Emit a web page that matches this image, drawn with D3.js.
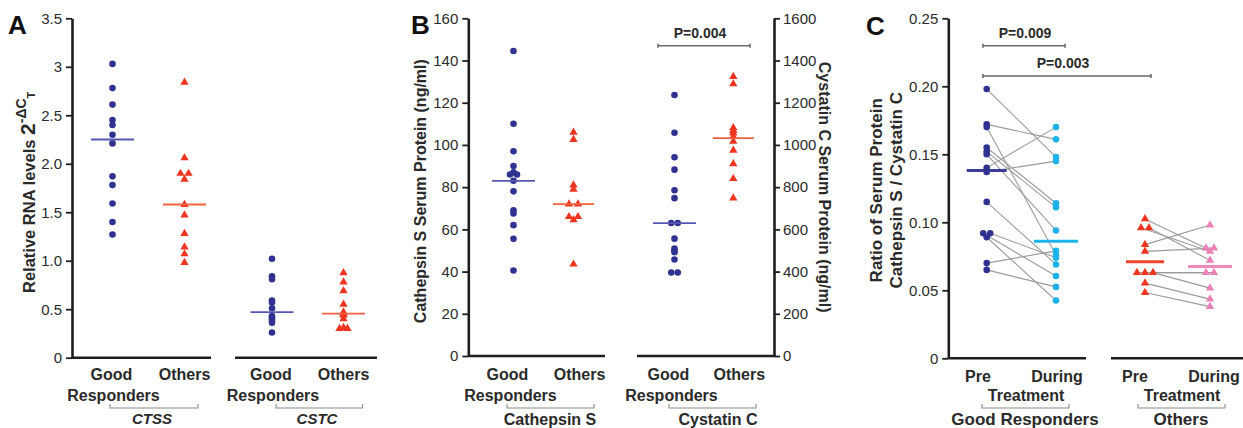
<!DOCTYPE html>
<html>
<head>
<meta charset="utf-8">
<script src="https://cdn.jsdelivr.net/npm/d3@7/dist/d3.min.js"></script>
<style>
  html, body { margin: 0; padding: 0; background: #fff; }
  svg { display: block; font-family: "Liberation Sans", Arial, sans-serif; }
</style>
</head>
<body>
<svg id="chart" width="1243" height="428"></svg>
<script>
// ---------------- DATA ----------------
// Panel A: relative RNA levels (2^-dCT)
const aGroups = ["CTSS Good", "CTSS Others", "CSTC Good", "CSTC Others"];
const ctssGood   = [3.03, 2.78, 2.61, 2.45, 2.40, 2.30, 2.21, 1.87, 1.78, 1.59, 1.40, 1.27];
const ctssOthers = [2.84, 2.06, 1.90, 1.90, 1.84, 1.58, 1.47, 1.28, 1.14, 1.07, 0.98];
const cstcGood   = [1.02, 0.84, 0.81, 0.59, 0.57, 0.51, 0.43, 0.42, 0.40, 0.38, 0.36, 0.26];
const cstcOthers = [0.875, 0.78, 0.69, 0.55, 0.47, 0.45, 0.44, 0.40, 0.31, 0.30, 0.30];
const aMedians   = [2.25, 1.58, 0.47, 0.455];
const aTicks      = [0, 0.5, 1, 1.5, 2, 2.5, 3, 3.5];
const aTickLabels = ["0", "0.5", "1.0", "1.5", "2.0", "2.5", "3", "3.5"];
const aGeneLabels = ["CTSS", "CSTC"];

// Panel B: serum protein (ng/ml)
const bGroups = ["CatS Good", "CatS Others", "CysC Good", "CysC Others"];
const catsGood   = [144.5, 110, 97, 90, 87, 86, 86, 83, 78, 69, 67.5, 62, 55.5, 40.5];
const catsOthers = [106, 102.5, 81, 79, 72, 72, 66, 66, 64.5, 43.5];
const cysGood    = [1237, 1058, 942, 883, 785, 748, 630, 630, 556, 509, 500, 492, 457, 396, 396];
const cysOthers  = [1324, 1289, 1081, 1068, 1056, 1040, 1017, 974, 911, 840, 748];
const bMedians   = [83, 72, 630, 1032];
const bLeftTicks  = [0, 20, 40, 60, 80, 100, 120, 140, 160];
const bRightTicks = [0, 200, 400, 600, 800, 1000, 1200, 1400, 1600];
const bProteinLabels = ["Cathepsin S", "Cystatin C"];

// Panel C: ratio Cathepsin S / Cystatin C, paired pre / during treatment
const cGroups = ["GR Pre", "GR During", "Oth Pre", "Oth During"];
const preGR    = [0.198, 0.172, 0.170, 0.155, 0.152, 0.150, 0.140, 0.137, 0.115, 0.092, 0.092, 0.089, 0.070, 0.065];
const duringGR = [0.148, 0.161, 0.076, 0.114, 0.111, 0.094, 0.170, 0.145, 0.069, 0.0605, 0.074, 0.0425, 0.079, 0.0525];
const preOth    = [0.1025, 0.096, 0.096, 0.0836, 0.0786, 0.063, 0.063, 0.063, 0.0553, 0.0484];
const duringOth = [0.081, 0.0786, 0.072, 0.098, 0.081, 0.063, 0.063, 0.0516, 0.0435, 0.038];
const cMedians  = [0.138, 0.086, 0.071, 0.0675];
const cTicks      = [0, 0.05, 0.10, 0.15, 0.20, 0.25];
const cTickLabels = ["0", "0.05", "0.10", "0.15", "0.20", "0.25"];
const cTimeLabels = ["Pre", "During"];
const cCohortLabels = ["Good Responders", "Others"];

// ---------------- STYLE / LAYOUT ----------------
const COL = {
  blue: "#2f3290", red: "#ef3420",
  blueLine: "#5656b4", redLine: "#f2603f",
  cyan: "#1db3e8", pink: "#ec80b8",
  axis: "#1e1e1e", text: "#2a2a2a", grey: "#9a9a9a", bracket: "#6a6a6a"
};

const svg = d3.select("#chart");

function dodge(values, step) {
  const counts = d3.rollup(values, v => v.length, d => d);
  const seen = new Map();
  return values.map(v => {
    const n = counts.get(v);
    const k = seen.get(v) || 0;
    seen.set(v, k + 1);
    return (k - (n - 1) / 2) * step;
  });
}

const circle = d3.symbol().type(d3.symbolCircle).size(34);
const tri = d3.symbol().type(d3.symbolTriangle).size(30);

function styleAxis(g, fontSize) {
  g.select(".domain").attr("stroke", COL.axis).attr("stroke-width", 2.6);
  g.selectAll(".tick line").attr("stroke", COL.axis).attr("stroke-width", 1.8);
  g.selectAll(".tick text").attr("fill", COL.text).style("font-size", fontSize + "px")
    .style("font-family", '"Liberation Sans", Arial, sans-serif');
}

function drawPoints(g, x, y, key, values, shape, color, step) {
  const off = dodge(values, step);
  g.append("g").selectAll("path").data(values).join("path")
    .attr("d", shape === "circle" ? circle : tri)
    .attr("transform", (d, i) => `translate(${x(key) + off[i]},${y(d)})`)
    .attr("fill", color);
  return off;
}

function drawMedian(g, x, y, key, value, color, half, width) {
  g.append("line")
    .attr("x1", x(key) - half).attr("x2", x(key) + half)
    .attr("y1", y(value)).attr("y2", y(value))
    .attr("stroke", color).attr("stroke-width", width);
}

function bottomSeg(g, x0, x1, yv) {
  g.append("line").attr("x1", x0).attr("x2", x1).attr("y1", yv).attr("y2", yv)
    .attr("stroke", COL.axis).attr("stroke-width", 2.6);
}

function groupBracket(g, x0, x1, yv, color) {
  g.append("path")
    .attr("d", `M${x0},${yv - 4}V${yv}H${x1}V${yv - 4}`)
    .attr("fill", "none").attr("stroke", color || "#8a8a8a").attr("stroke-width", 1.1);
}

function pBracket(g, x0, x1, yv, label, labelX) {
  g.append("path")
    .attr("d", `M${x0},${yv - 2}V${yv + 2}M${x0},${yv}H${x1}M${x1},${yv - 2}V${yv + 2}`)
    .attr("fill", "none").attr("stroke", COL.bracket).attr("stroke-width", 1.6);
  g.append("text").attr("x", labelX).attr("y", yv - 8)
    .attr("text-anchor", "middle").attr("fill", COL.text)
    .style("font-size", "14px").style("font-weight", "bold").text(label);
}

function text(g, x, y, str, opts = {}) {
  return g.append("text").attr("x", x).attr("y", y)
    .attr("text-anchor", opts.anchor || "middle")
    .attr("fill", opts.fill || COL.text)
    .style("font-size", (opts.size || 16) + "px")
    .style("font-weight", opts.weight || "bold")
    .style("font-style", opts.style || "normal")
    .text(str);
}

function panelLetter(x, y, letter) {
  text(svg, x, y, letter, { size: 26, anchor: "start", fill: "#111" });
}

// ================= PANEL A =================
(function () {
  const g = svg.append("g");
  const y = d3.scaleLinear().domain([0, 3.5]).range([357.7, 18.3]);
  const x = d3.scaleOrdinal().domain(aGroups).range([112.5, 184.5, 272, 343.5]);
  const axisX = 72;

  const ax = g.append("g").attr("transform", `translate(${axisX},0)`)
    .call(d3.axisLeft(y).tickValues(aTicks).tickFormat((d, i) => aTickLabels[i])
      .tickSize(6).tickPadding(4).tickSizeOuter(0));
  styleAxis(ax, 15);

  bottomSeg(g, axisX, 211, y(0));
  bottomSeg(g, 235, 377, y(0));

  drawPoints(g, x, y, aGroups[0], ctssGood, "circle", COL.blue, 7);
  drawPoints(g, x, y, aGroups[1], ctssOthers, "tri", COL.red, 8);
  drawPoints(g, x, y, aGroups[2], cstcGood, "circle", COL.blue, 7);
  drawPoints(g, x, y, aGroups[3], cstcOthers, "tri", COL.red, 8);

  aGroups.forEach((k, i) => drawMedian(g, x, y, k, aMedians[i], i % 2 ? COL.redLine : COL.blueLine, 21.5, 1.8));

  // x labels
  aGroups.forEach((k, i) => {
    if (i % 2 === 0) {
      text(g, x(k) - 1, 380, "Good");
      text(g, x(k) + 1, 401, "Responders");
    } else {
      text(g, x(k), 380, "Others");
    }
  });
  // gene brackets
  groupBracket(g, 110, 198, 408);
  groupBracket(g, 276, 362.5, 408);
  text(g, 152, 423.5, aGeneLabels[0], { size: 15, style: "italic" });
  text(g, 317, 423.5, aGeneLabels[1], { size: 15, style: "italic" });

  // y label with 2^-ΔC_T
  const yl = g.append("text")
    .attr("transform", "translate(35,293) rotate(-90)")
    .attr("fill", COL.text).style("font-weight", "bold");
  yl.append("tspan").style("font-size", "16.5px").text("Relative RNA levels ");
  yl.append("tspan").style("font-size", "21px").text("2");
  yl.append("tspan").style("font-size", "14px").attr("dy", -9).text("-ΔC");
  yl.append("tspan").style("font-size", "11px").attr("dy", 9).text("T");

  panelLetter(8, 34, "A");
})();

// ================= PANEL B =================
(function () {
  const g = svg.append("g");
  const yL = d3.scaleLinear().domain([0, 160]).range([356, 18.3]);
  const yR = d3.scaleLinear().domain([0, 1600]).range([356, 18.3]);
  const x = d3.scaleOrdinal().domain(bGroups).range([513.5, 573.5, 674.5, 733.3]);
  const axL = 468.3, axR = 774;

  const gl = g.append("g").attr("transform", `translate(${axL},0)`)
    .call(d3.axisLeft(yL).tickValues(bLeftTicks).tickFormat(d3.format("d"))
      .tickSize(6).tickPadding(4).tickSizeOuter(0));
  styleAxis(gl, 15);
  const gr = g.append("g").attr("transform", `translate(${axR},0)`)
    .call(d3.axisRight(yR).tickValues(bRightTicks).tickFormat(d3.format("d"))
      .tickSize(6).tickPadding(3).tickSizeOuter(0));
  styleAxis(gr, 15);

  bottomSeg(g, axL, 605, yL(0));
  bottomSeg(g, 637, axR, yL(0));

  drawPoints(g, x, yL, bGroups[0], catsGood, "circle", COL.blue, 7);
  drawPoints(g, x, yL, bGroups[1], catsOthers, "tri", COL.red, 9);
  drawPoints(g, x, yR, bGroups[2], cysGood, "circle", COL.blue, 6.5);
  drawPoints(g, x, yR, bGroups[3], cysOthers, "tri", COL.red, 8);

  drawMedian(g, x, yL, bGroups[0], bMedians[0], COL.blueLine, 21.5, 1.8);
  drawMedian(g, x, yL, bGroups[1], bMedians[1], COL.redLine, 20.5, 1.8);
  drawMedian(g, x, yR, bGroups[2], bMedians[2], COL.blueLine, 21.5, 1.8);
  drawMedian(g, x, yR, bGroups[3], bMedians[3], COL.redLine, 20.5, 1.8);

  bGroups.forEach((k, i) => {
    if (i % 2 === 0) {
      text(g, x(k) - 6, 380, "Good");
      text(g, x(k) - 3, 401, "Responders");
    } else {
      text(g, x(k) + 6, 380, "Others");
    }
  });
  groupBracket(g, 507, 594, 408);
  groupBracket(g, 669, 756, 408);
  text(g, 550, 425, bProteinLabels[0], { size: 16 });
  text(g, 718, 425, bProteinLabels[1], { size: 16 });

  pBracket(g, 658, 750, 45.7, "P=0.004", 700);

  g.append("text").attr("transform", `translate(426,${(yL(0) + yL(160)) / 2 + 4}) rotate(-90)`)
    .attr("text-anchor", "middle").attr("fill", COL.text)
    .style("font-size", "16px").style("font-weight", "bold")
    .text("Cathepsin S Serum Protein (ng/ml)");
  g.append("text").attr("transform", `translate(819,${(yL(0) + yL(160)) / 2}) rotate(90)`)
    .attr("text-anchor", "middle").attr("fill", COL.text)
    .style("font-size", "16px").style("font-weight", "bold")
    .text("Cystatin C Serum Protein (ng/ml)");

  panelLetter(411, 34, "B");
})();

// ================= PANEL C =================
(function () {
  const g = svg.append("g");
  const y = d3.scaleLinear().domain([0, 0.25]).range([358.3, 18.3]);
  const x = d3.scaleOrdinal().domain(cGroups).range([986.7, 1056, 1145, 1210]);
  const axX = 948.3;

  const ax = g.append("g").attr("transform", `translate(${axX},0)`)
    .call(d3.axisLeft(y).tickValues(cTicks).tickFormat((d, i) => cTickLabels[i])
      .tickSize(6).tickPadding(4).tickSizeOuter(0));
  styleAxis(ax, 15);

  bottomSeg(g, axX, 1086, y(0));
  bottomSeg(g, 1111, 1243, y(0));

  // paired lines (drawn first)
  const offPreGR = dodge(preGR, 7), offDurGR = dodge(duringGR, 7);
  const offPreO = dodge(preOth, 8), offDurO = dodge(duringOth, 8);
  const lines = g.append("g");
  lines.selectAll("line.gr").data(preGR).join("line").attr("class", "gr")
    .attr("x1", (d, i) => x(cGroups[0]) + offPreGR[i]).attr("y1", d => y(d))
    .attr("x2", (d, i) => x(cGroups[1]) + offDurGR[i]).attr("y2", (d, i) => y(duringGR[i]))
    .attr("stroke", COL.grey).attr("stroke-width", 1.1);
  lines.selectAll("line.ot").data(preOth).join("line").attr("class", "ot")
    .attr("x1", (d, i) => x(cGroups[2]) + offPreO[i]).attr("y1", d => y(d))
    .attr("x2", (d, i) => x(cGroups[3]) + offDurO[i]).attr("y2", (d, i) => y(duringOth[i]))
    .attr("stroke", COL.grey).attr("stroke-width", 1.1);

  drawMedian(g, x, y, cGroups[0], cMedians[0], "#3a3c9e", 20, 3);
  drawMedian(g, x, y, cGroups[1], cMedians[1], COL.cyan, 22, 3);
  drawMedian(g, x, y, cGroups[2], cMedians[2], "#f0452a", 19, 3);
  drawMedian(g, x, y, cGroups[3], cMedians[3], "#ef88bd", 22, 3);

  drawPoints(g, x, y, cGroups[0], preGR, "circle", COL.blue, 7);
  drawPoints(g, x, y, cGroups[1], duringGR, "circle", COL.cyan, 7);
  drawPoints(g, x, y, cGroups[2], preOth, "tri", COL.red, 8);
  drawPoints(g, x, y, cGroups[3], duringOth, "tri", COL.pink, 8);

  // x labels
  text(g, 978, 382, cTimeLabels[0]);
  text(g, 1057, 382, cTimeLabels[1]);
  text(g, 1135, 382, cTimeLabels[0]);
  text(g, 1214, 382, cTimeLabels[1]);
  text(g, 1026, 401, "Treatment");
  text(g, 1182, 401, "Treatment");
  groupBracket(g, 982, 1069, 408);
  groupBracket(g, 1138, 1225, 408);
  text(g, 1025, 425, cCohortLabels[0], { size: 17 });
  text(g, 1181, 425, cCohortLabels[1], { size: 17 });

  pBracket(g, 983, 1065, 45.7, "P=0.009", 1025);
  pBracket(g, 983, 1151, 76, "P=0.003", 1063);

  const yc = (y(0) + y(0.25)) / 2 + 2;
  g.append("text").attr("transform", `translate(882,${yc}) rotate(-90)`)
    .attr("text-anchor", "middle").attr("fill", COL.text)
    .style("font-size", "17px").style("font-weight", "bold").text("Ratio of Serum Protein");
  g.append("text").attr("transform", `translate(902,${yc}) rotate(-90)`)
    .attr("text-anchor", "middle").attr("fill", COL.text)
    .style("font-size", "17px").style("font-weight", "bold").text("Cathepsin S / Cystatin C");

  panelLetter(866, 35, "C");
})();
</script>
</body>
</html>
